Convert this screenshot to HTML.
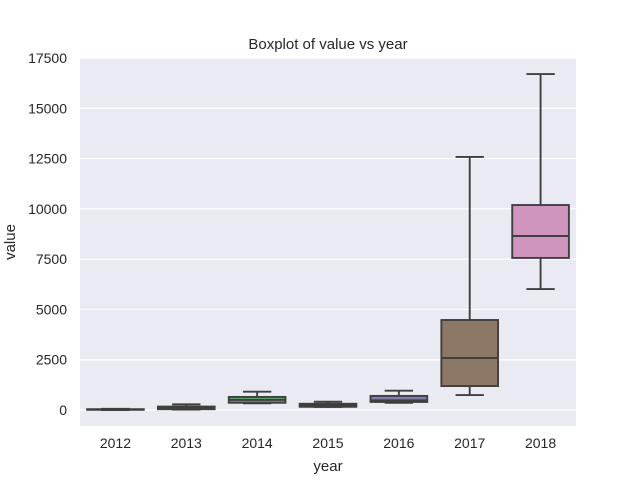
<!DOCTYPE html>
<html><head><meta charset="utf-8"><style>
body{margin:0;background:#fff;font-family:"Liberation Sans","DejaVu Sans",sans-serif}
</style></head><body>
<svg id="chart" width="640" height="480" xmlns="http://www.w3.org/2000/svg"></svg>
<script>
const categories=["2012","2013","2014","2015","2016","2017","2018"];
const whiskerLow=[0,20,330,150,360,745,6015];
const q1=[10,40,360,160,400,1190,7560];
const medians=[20,120,500,230,480,2585,8650];
const q3=[40,170,650,310,700,4475,10190];
const whiskerHigh=[60,280,910,410,960,12580,16700];
const yTicks=[0,2500,5000,7500,10000,12500,15000,17500];
const colors=["#5975a4","#cc8963","#5f9e6e","#b55d60","#857aab","#8d7866","#d095bf"];
const NS="http://www.w3.org/2000/svg";
const svg=document.getElementById('chart');
const L=80,R=576,T=58,B=426;
function y(v){return 410-(v/17500)*352;}
const bw=(R-L)/categories.length;
function x(i){return L+bw*(i+0.5);}
function mk(tag,attrs,name,text){const e=document.createElementNS(NS,tag);for(const k in attrs)e.setAttribute(k,attrs[k]);


if(text!==undefined)e.textContent=text;svg.appendChild(e);return e;}
mk('rect',{x:L,y:T,width:R-L,height:B-T,fill:'#eaeaf2'},'plot-area');
yTicks.forEach(t=>{mk('line',{x1:L,x2:R,y1:y(t),y2:y(t),stroke:'#fff','stroke-width':1.2},'y-gridline');
mk('text',{x:L-13,y:y(t)+5,'text-anchor':'end','font-size':14,fill:'#262626'},'y-tick-label',String(t));});
const sw=1.9;
categories.forEach((c,i)=>{
const cx=x(i),w=bw*0.8,col='#3f3f3f';
mk('line',{x1:cx,x2:cx,y1:y(q3[i]),y2:y(whiskerHigh[i]),stroke:col,'stroke-width':sw},'upper-whisker');
mk('line',{x1:cx,x2:cx,y1:y(q1[i]),y2:y(whiskerLow[i]),stroke:col,'stroke-width':sw},'lower-whisker');
mk('line',{x1:cx-w/4,x2:cx+w/4,y1:y(whiskerHigh[i]),y2:y(whiskerHigh[i]),stroke:col,'stroke-width':sw},'upper-cap');
mk('line',{x1:cx-w/4,x2:cx+w/4,y1:y(whiskerLow[i]),y2:y(whiskerLow[i]),stroke:col,'stroke-width':sw},'lower-cap');
mk('rect',{x:cx-w/2,y:y(q3[i]),width:w,height:Math.max(0.5,y(q1[i])-y(q3[i])),fill:colors[i],stroke:col,'stroke-width':sw},'box-'+c);
mk('line',{x1:cx-w/2,x2:cx+w/2,y1:y(medians[i]),y2:y(medians[i]),stroke:col,'stroke-width':sw},'median-'+c);
mk('text',{x:cx,y:B+22,'text-anchor':'middle','font-size':14,fill:'#262626'},'x-tick-label',c);
});
mk('text',{x:(L+R)/2,y:B+45,'text-anchor':'middle','font-size':15,fill:'#262626'},'x-axis-title','year');
mk('text',{x:0,y:0,'text-anchor':'middle','font-size':15,fill:'#262626',transform:`translate(15,${(T+B)/2}) rotate(-90)`},'y-axis-title','value');
mk('text',{x:(L+R)/2,y:T-9,'text-anchor':'middle','font-size':15,fill:'#262626'},'chart-title','Boxplot of value vs year');
</script>
</body></html>
